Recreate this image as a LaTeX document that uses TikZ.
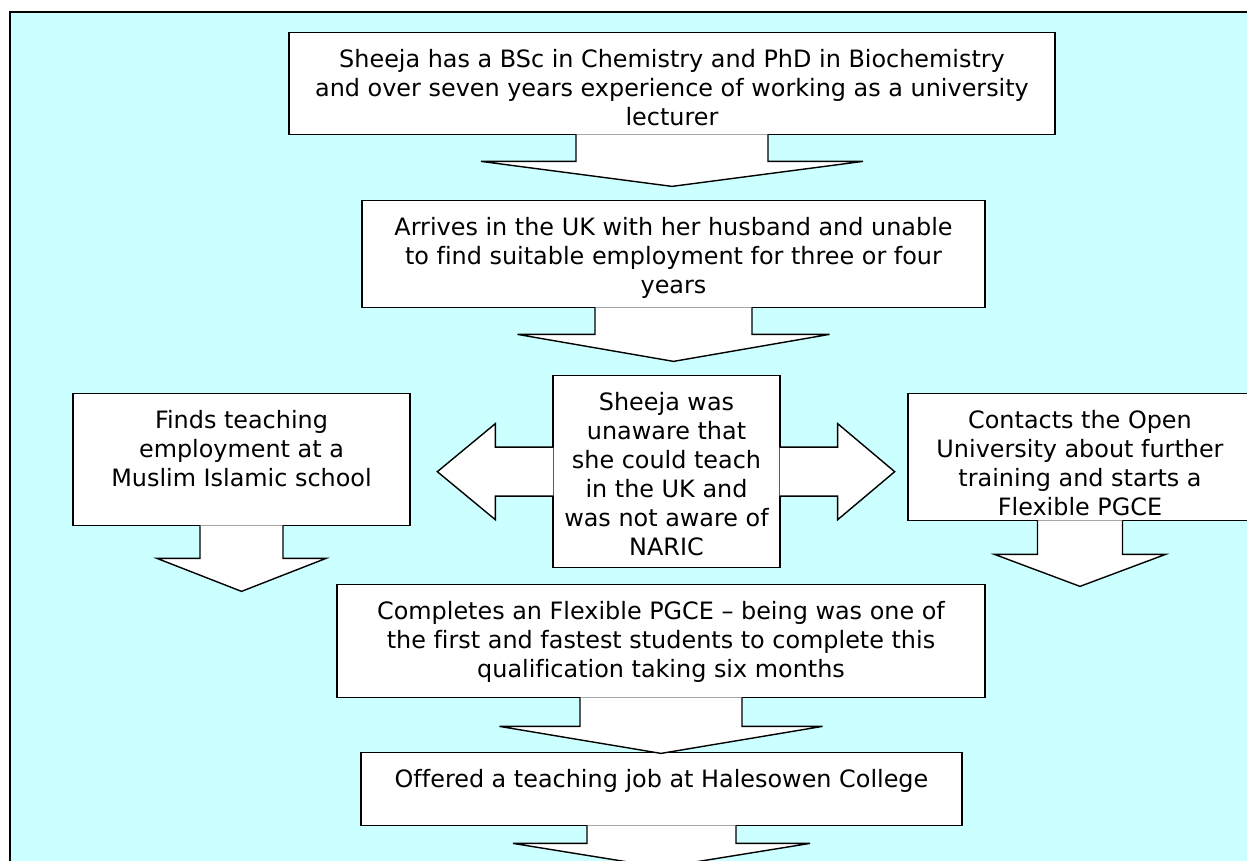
\documentclass[tikz,border=0pt]{standalone}
\usepackage{fontspec}
\setmainfont[Ligatures=NoCommon]{DejaVu Sans}
\usetikzlibrary{calc}
\definecolor{paleblue}{RGB}{204,255,255}
\tikzset{
  card/.style={draw,fill=white,line width=0.8pt,inner sep=0pt,anchor=north,
    font=\fontsize{13.6}{16.5}\selectfont},
  blk/.style={draw,fill=white,line width=0.8pt}
}
\newcommand{\cardtext}[3]{\parbox[t][#2][t]{#1}{\centering\rule{0pt}{0.69cm}#3}}
\newcommand{\blockdown}[5]{%
  \coordinate (#1tip) at ($(#1.south)+(0,#3+#5)$);
  \draw[blk] ($(#1.south)+(-#2,-1)$) -- ($(#1.south)+(-#2,#3)$) -- ($(#1.south)+(-#4,#3)$)
    -- (#1tip) -- ($(#1.south)+(#4,#3)$) -- ($(#1.south)+(#2,#3)$) -- ($(#1.south)+(#2,-1)$);}
\begin{document}
\begin{tikzpicture}[x=0.02cm,y=-0.02cm]
\useasboundingbox (0,0) rectangle (1247,861);
\clip (0,0) rectangle (1247,861);
\draw[fill=paleblue,line width=1.3pt] (10,12) rectangle (1270,890);
\node[card] (degree) at (672,32) {\cardtext{15.32cm}{2.04cm}{Sheeja has a BSc in Chemistry and PhD in Biochemistry\\and over seven years experience of working as a university\\lecturer}};
\node[card] (arrive) at (673.5,200) {\cardtext{12.46cm}{2.14cm}{Arrives in the UK with her husband and unable\\to find suitable employment for three or four\\years}};
\node[card] (school) at (241.5,393) {\cardtext{6.74cm}{2.64cm}{Finds teaching\\employment at a\\Muslim Islamic school}};
\node[card] (unaware) at (666.5,375) {\cardtext{4.54cm}{3.84cm}{Sheeja was\\unaware that\\she could teach\\in the UK and\\was not aware of\\NARIC}};
\node[card] (openuni) at (1080,393) {\cardtext{6.88cm}{2.54cm}{Contacts the Open\\University about further\\training and starts a\\Flexible PGCE}};
\node[card] (pgce) at (661,584) {\cardtext{12.96cm}{2.26cm}{Completes an Flexible PGCE – being was one of\\the first and fastest students to complete this\\qualification taking six months}};
\node[card] (offer) at (661.5,752) {\cardtext{12.02cm}{1.46cm}{Offered a teaching job at Halesowen College}};
\blockdown{degree}{96}{26}{191}{25}
\blockdown{arrive}{78.5}{26}{156}{27}
\blockdown{school}{41.5}{32}{84.5}{33}
\blockdown{openuni}{42.5}{33}{85.5}{32}
\blockdown{pgce}{81}{28}{161.5}{27}
\blockdown{offer}{74.5}{17}{148.5}{24}
\draw[blk] ($(unaware.west)+(1,-24.5)$) -- ($(unaware.west)+(-57,-24.5)$) -- ($(unaware.west)+(-57,-48)$)
  -- ($(unaware.west)+(-115,0)$) -- ($(unaware.west)+(-57,48)$) -- ($(unaware.west)+(-57,24.5)$) -- ($(unaware.west)+(1,24.5)$);
\draw[blk] ($(unaware.east)+(-1,-24.5)$) -- ($(unaware.east)+(57,-24.5)$) -- ($(unaware.east)+(57,-48)$)
  -- ($(unaware.east)+(114,0)$) -- ($(unaware.east)+(57,48)$) -- ($(unaware.east)+(57,24.5)$) -- ($(unaware.east)+(-1,24.5)$);
\end{tikzpicture}
\end{document}
